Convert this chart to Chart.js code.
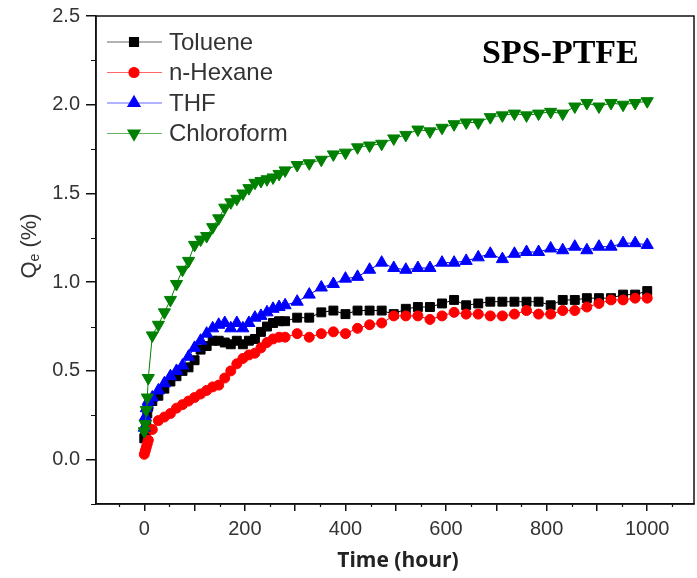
<!DOCTYPE html>
<html>
<head>
<meta charset="utf-8">
<script src="https://cdn.jsdelivr.net/npm/chart.js@4.4.1/dist/chart.umd.min.js"></script>
<style>
  body { margin: 0; background: #fff; }
  canvas { display: block; }
</style>
</head>
<body>
<canvas id="chart" width="697" height="578"></canvas>
<script>
// Sampling times (hours), shared by all four solvents
const times = [0, 2, 4, 6, 8, 16, 28, 40, 52, 64, 76, 88, 100, 112, 124, 136, 148, 160, 172, 184, 196, 208, 220, 232, 244, 256, 268, 280,
  304, 328, 352, 376, 400, 424, 448, 472, 496, 520, 544, 568, 592, 616, 640, 664, 688, 712, 736, 760, 784, 808, 832, 856, 880, 904, 928, 952, 976, 1000];

// Qe (%)
const toluene = [0.12, 0.15, 0.20, 0.26, 0.30, 0.33, 0.36, 0.40, 0.44, 0.47, 0.50, 0.52, 0.56, 0.62, 0.64, 0.67, 0.67, 0.66, 0.65, 0.67, 0.65, 0.67, 0.68, 0.72, 0.75, 0.77, 0.78, 0.78,
  0.80, 0.80, 0.83, 0.84, 0.82, 0.84, 0.84, 0.84, 0.82, 0.85, 0.86, 0.86, 0.88, 0.90, 0.87, 0.88, 0.89, 0.89, 0.89, 0.89, 0.89, 0.87, 0.90, 0.90, 0.91, 0.91, 0.91, 0.93, 0.93, 0.95];
const hexane = [0.03, 0.05, 0.07, 0.09, 0.11, 0.17, 0.22, 0.24, 0.26, 0.29, 0.31, 0.33, 0.35, 0.37, 0.39, 0.41, 0.42, 0.46, 0.50, 0.54, 0.57, 0.59, 0.60, 0.63, 0.66, 0.68, 0.69, 0.69,
  0.71, 0.69, 0.71, 0.72, 0.71, 0.74, 0.76, 0.77, 0.81, 0.81, 0.81, 0.79, 0.81, 0.83, 0.82, 0.82, 0.81, 0.81, 0.82, 0.84, 0.82, 0.82, 0.84, 0.84, 0.86, 0.88, 0.90, 0.90, 0.91, 0.91];
const thf = [0.18, 0.24, 0.29, 0.31, 0.33, 0.35, 0.39, 0.43, 0.47, 0.50, 0.53, 0.58, 0.63, 0.67, 0.71, 0.74, 0.76, 0.77, 0.74, 0.77, 0.74, 0.77, 0.80, 0.81, 0.83, 0.85, 0.86, 0.87,
  0.89, 0.93, 0.97, 0.99, 1.02, 1.03, 1.07, 1.11, 1.08, 1.07, 1.08, 1.08, 1.11, 1.11, 1.12, 1.14, 1.16, 1.13, 1.16, 1.17, 1.17, 1.19, 1.18, 1.20, 1.18, 1.20, 1.20, 1.22, 1.22, 1.21];
const chloroform = [0.16, 0.20, 0.28, 0.35, 0.46, 0.70, 0.76, 0.83, 0.90, 0.99, 1.07, 1.12, 1.21, 1.24, 1.26, 1.31, 1.36, 1.42, 1.45, 1.47, 1.50, 1.53, 1.56, 1.57, 1.58, 1.59, 1.61, 1.63,
  1.66, 1.67, 1.69, 1.72, 1.73, 1.76, 1.77, 1.78, 1.81, 1.83, 1.86, 1.85, 1.87, 1.89, 1.90, 1.90, 1.93, 1.94, 1.95, 1.94, 1.95, 1.96, 1.95, 1.99, 2.01, 1.99, 2.01, 2.00, 2.01, 2.02];

// Axis tick labels
const xTickLabels = [0, 200, 400, 600, 800, 1000];
const yTickLabels = [0.0, 0.5, 1.0, 1.5, 2.0, 2.5];

const sansFont = "'Liberation Sans', Arial, sans-serif";

const series = [
  { label: "Toluene", values: toluene, color: "#000000", style: "rect", radius: 6.3, rotation: 0 },
  { label: "n-Hexane", values: hexane, color: "#ff0000", style: "circle", radius: 5, rotation: 0 },
  { label: "THF", values: thf, color: "#0000ff", style: "triangle", radius: 7, rotation: 0 },
  { label: "Chloroform", values: chloroform, color: "#008000", style: "triangle", radius: 7, rotation: 180 },
];

function toPoints(values) {
  return times.map((t, i) => ({ x: t, y: values[i] }));
}

// Frame, minor ticks, legend, axis titles and the "SPS-PTFE" label
const decorations = {
  id: "decorations",
  afterDraw(chart) {
    const { ctx, chartArea: area, scales } = chart;
    ctx.save();

    // box around the plot
    ctx.strokeStyle = "#111";
    ctx.lineWidth = 1.5;
    ctx.strokeRect(area.left, area.top, area.right - area.left, area.bottom - area.top);

    // minor ticks
    ctx.lineWidth = 1.2;
    ctx.beginPath();
    for (let v = -0.25; v <= 2.5; v += 0.5) {
      const y = Math.round(scales.y.getPixelForValue(v)) + 0.5;
      if (y < area.top - 1 || y > area.bottom + 1) continue;
      ctx.moveTo(area.left - 5, y);
      ctx.lineTo(area.left, y);
    }
    for (let v = -50; v < 1093; v += 100) {
      const x = Math.round(scales.x.getPixelForValue(v)) + 0.5;
      ctx.moveTo(x, area.bottom);
      ctx.lineTo(x, area.bottom + 3);
    }
    ctx.stroke();

    // legend
    series.forEach((s, i) => {
      const y = 42 + i * 30.5;
      ctx.strokeStyle = s.color;
      ctx.globalAlpha = 0.6;
      ctx.lineWidth = 1.2;
      ctx.beginPath();
      ctx.moveTo(107, y);
      ctx.lineTo(162, y);
      ctx.stroke();
      ctx.globalAlpha = 1;
      ctx.fillStyle = s.color;
      ctx.strokeStyle = s.color;
      Chart.helpers.drawPoint(ctx, { pointStyle: s.style, radius: s.radius, rotation: s.rotation, borderWidth: 1 }, 134, y);
      ctx.fillStyle = "#333";
      ctx.font = `24px ${sansFont}`;
      ctx.textAlign = "left";
      ctx.textBaseline = "middle";
      ctx.fillText(s.label, 169, y + 1);
    });

    // sample label
    ctx.fillStyle = "#000";
    ctx.font = "bold 34px 'Liberation Serif', 'Times New Roman', serif";
    ctx.textAlign = "left";
    ctx.textBaseline = "alphabetic";
    ctx.fillText("SPS-PTFE", 482, 63);

    // x title
    ctx.fillStyle = "#222";
    ctx.font = "bold 21px 'Open Sans', sans-serif";
    ctx.textAlign = "center";
    ctx.textBaseline = "middle";
    ctx.fillText("Time (hour)", 398, 561);

    // y title with subscript e
    ctx.translate(28, 246);
    ctx.rotate(-Math.PI / 2);
    ctx.fillStyle = "#333";
    ctx.textBaseline = "alphabetic";
    ctx.textAlign = "left";
    const big = `22px ${sansFont}`;
    const small = `14px ${sansFont}`;
    ctx.font = big;
    const wQ = ctx.measureText("Q").width;
    ctx.font = small;
    const wE = ctx.measureText("e").width;
    ctx.font = big;
    const wRest = ctx.measureText(" (%)").width;
    let x0 = -(wQ + wE + wRest) / 2;
    ctx.fillText("Q", x0, 8);
    ctx.font = small;
    ctx.fillText("e", x0 + wQ, 11);
    ctx.font = big;
    ctx.fillText(" (%)", x0 + wQ + wE, 8);

    ctx.restore();
  },
};

document.addEventListener("DOMContentLoaded", () => {
  const ctx = document.getElementById("chart");

  new Chart(ctx, {
    type: "line",
    data: {
      datasets: series.map((s, i) => ({
        label: s.label,
        data: toPoints(s.values),
        borderColor: s.color,
        backgroundColor: s.color,
        borderWidth: 1,
        pointStyle: s.style,
        pointRadius: s.radius,
        pointRotation: s.rotation,
        pointBorderWidth: 1,
        tension: 0,
        order: series.length - i, // later solvents drawn on top, like Origin
      })),
    },
    options: {
      responsive: false,
      animation: false,
      // autoPadding off, otherwise the marker size pushes the frame inwards
      layout: { autoPadding: false, padding: { top: 16, right: 3, left: 0, bottom: 0 } },
      plugins: {
        legend: { display: false },
        tooltip: { enabled: false },
      },
      scales: {
        x: {
          type: "linear",
          min: -96,
          max: 1093,
          afterFit: (scale) => {
            scale.height = 74;
            scale.paddingLeft = 0;
            scale.paddingRight = 0;
          },
          border: { color: "#111", width: 1.5 },
          grid: { drawOnChartArea: false, tickLength: 7, color: "#111", lineWidth: 1.5 },
          ticks: {
            stepSize: 100,
            includeBounds: false,
            autoSkip: false,
            maxRotation: 0,
            padding: 6,
            color: "#333",
            font: { size: 20, family: sansFont },
            callback: (v) => (xTickLabels.includes(v) ? String(v) : ""),
          },
        },
        y: {
          min: -0.25,
          max: 2.5,
          afterFit: (scale) => {
            scale.width = 96;
            scale.paddingTop = 0;
            scale.paddingBottom = 0;
          },
          border: { color: "#111", width: 1.5 },
          grid: { drawOnChartArea: false, tickLength: 10, color: "#111", lineWidth: 1.5 },
          ticks: {
            stepSize: 0.5,
            includeBounds: false,
            autoSkip: false,
            padding: 6,
            color: "#333",
            font: { size: 20, family: sansFont },
            callback: (v) => {
              const hit = yTickLabels.find((t) => Math.abs(t - v) < 1e-6);
              return hit === undefined ? "" : hit.toFixed(1);
            },
          },
        },
      },
    },
    plugins: [decorations],
  });
});
</script>
</body>
</html>
